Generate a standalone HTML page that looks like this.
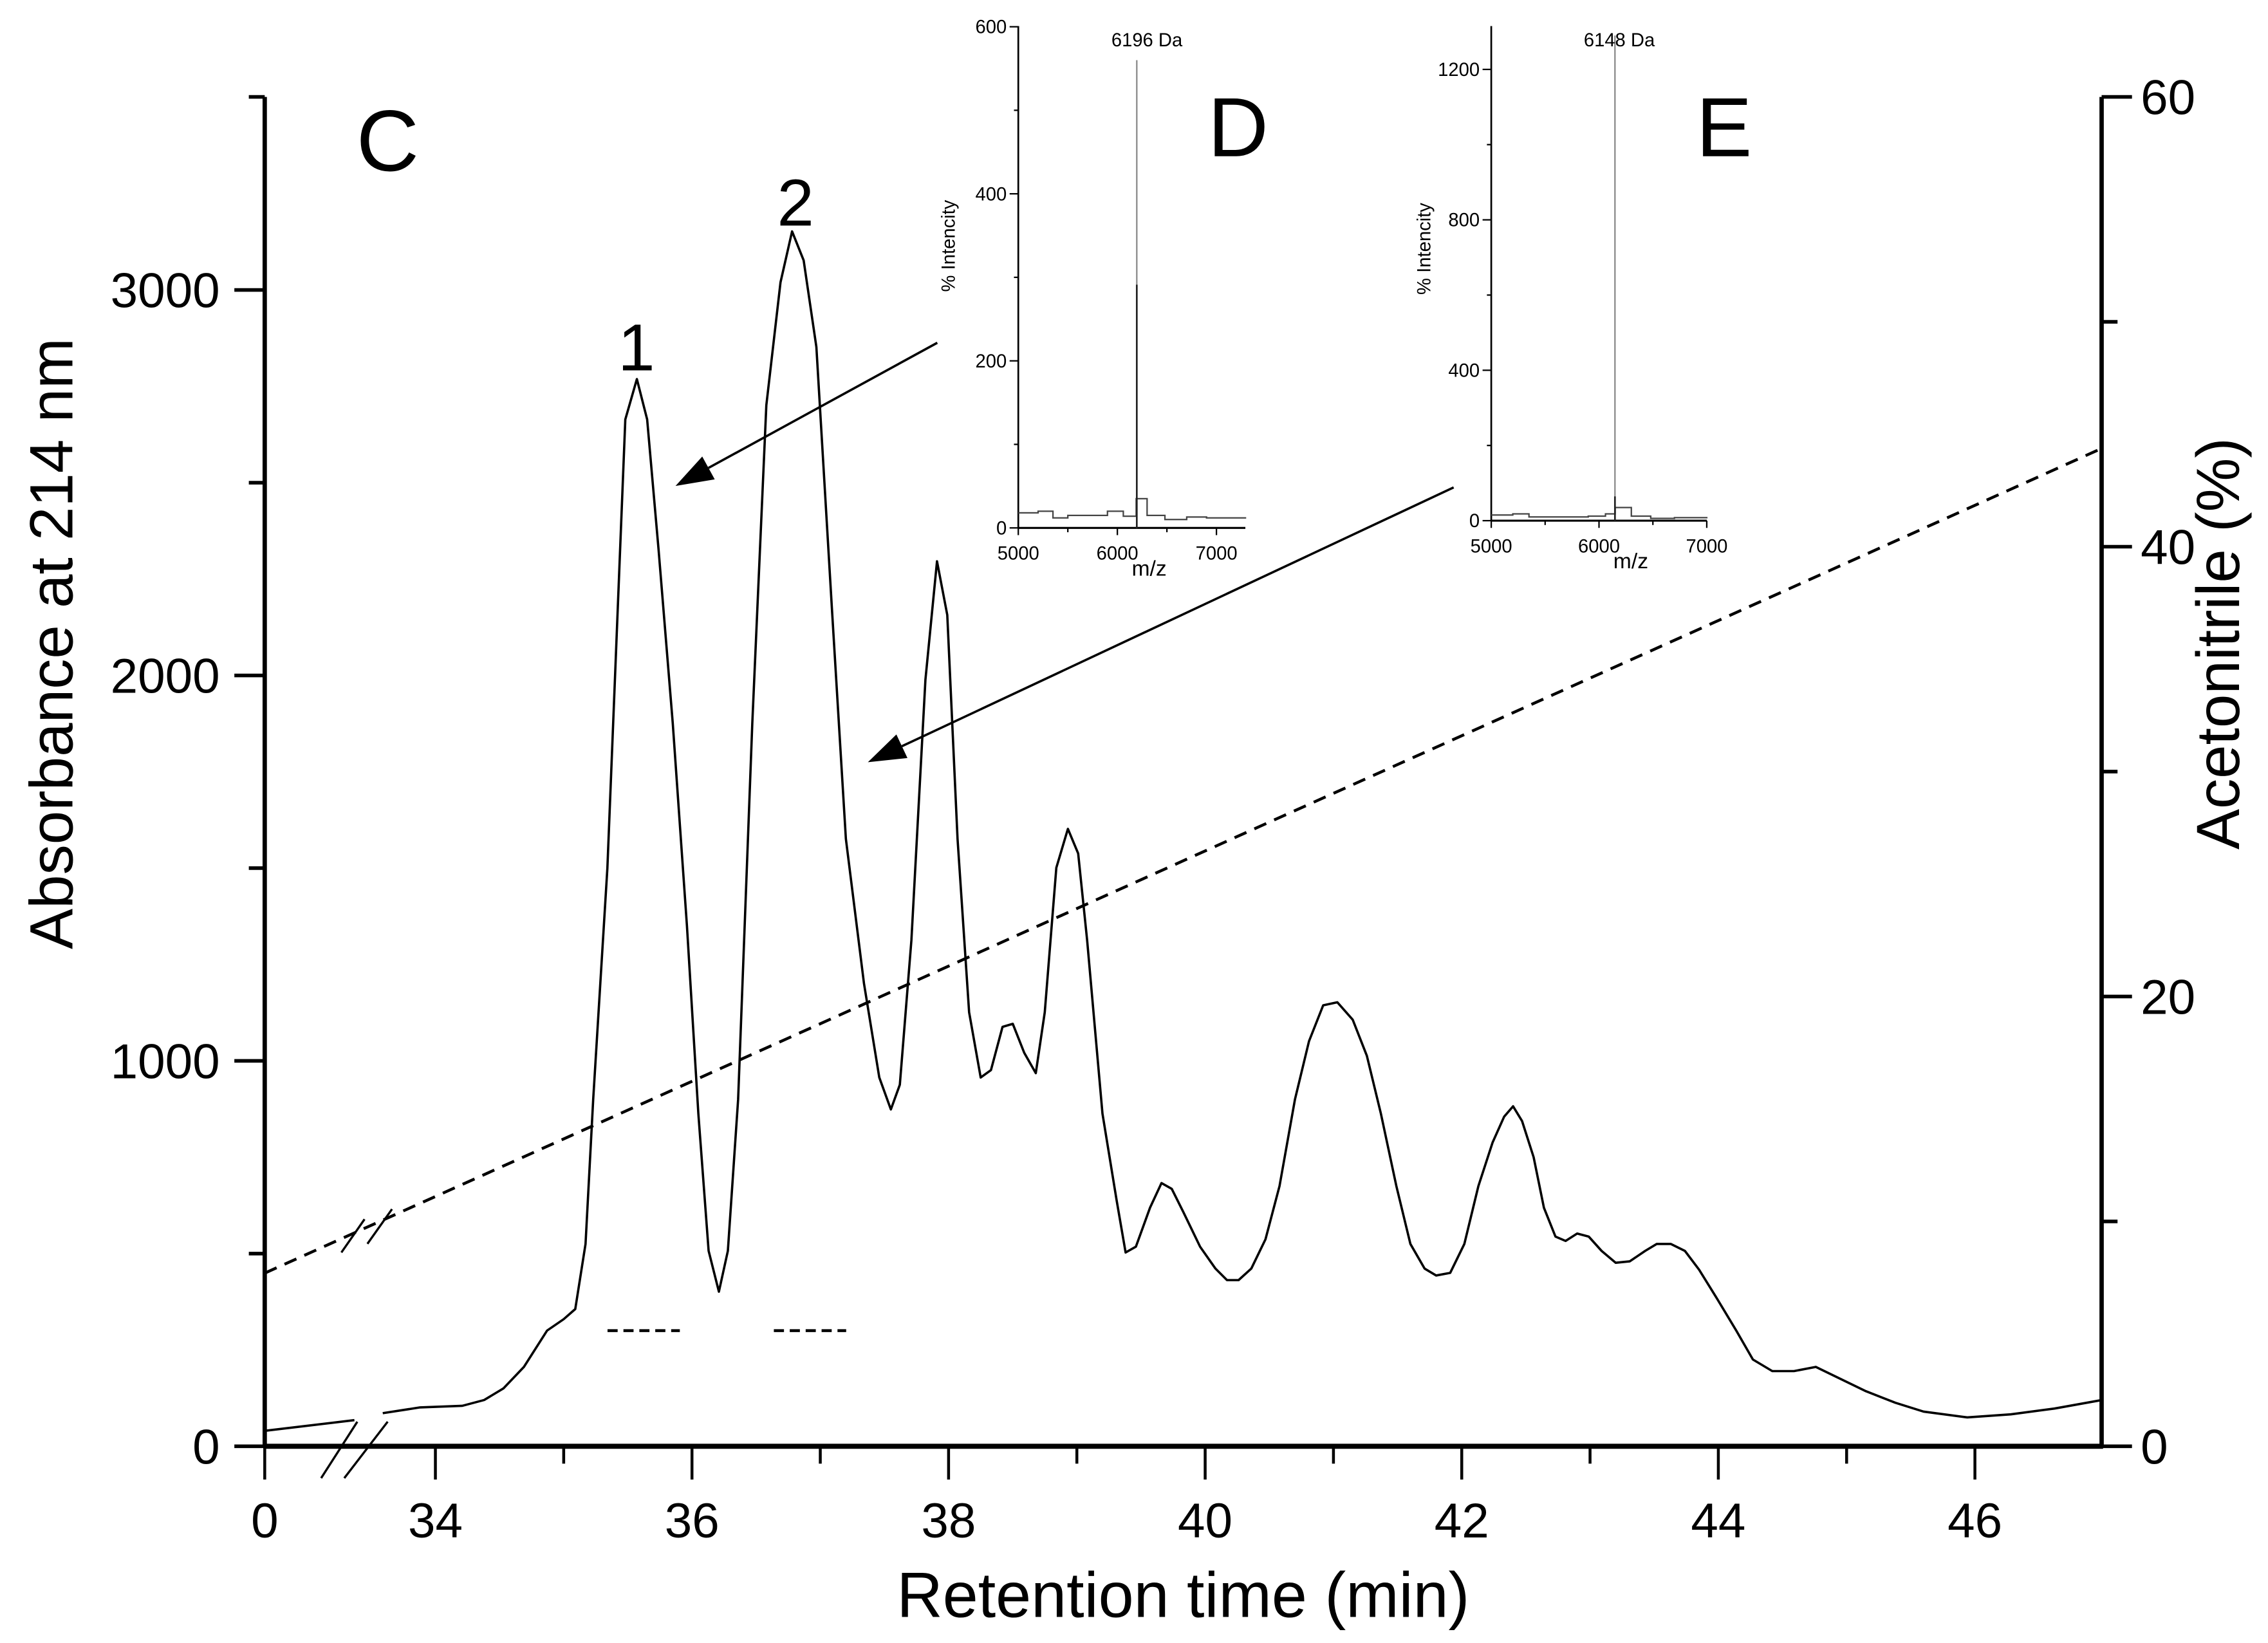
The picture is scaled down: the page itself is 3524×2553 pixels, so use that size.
<!DOCTYPE html>
<html><head><meta charset="utf-8"><style>
html,body{margin:0;padding:0;background:#fff;}
svg{display:block;font-family:"Liberation Sans",Arial,sans-serif;}
</style></head><body>
<svg id="chart" width="3524" height="2553" viewBox="0 0 1568 1136" xmlns="http://www.w3.org/2000/svg">
<g id="g"></g>
</svg>
<script>
// ---- main chromatogram data ----
const retentionTimes = [33.59,33.88,34.21,34.38,34.53,34.69,34.87,35.00,35.09,35.17,35.23,35.34,35.48,35.57,35.65,35.74,35.85,35.96,36.05,36.13,36.21,36.28,36.36,36.47,36.58,36.69,36.78,36.87,36.97,37.09,37.20,37.34,37.46,37.55,37.62,37.71,37.82,37.91,37.99,38.07,38.16,38.25,38.33,38.42,38.50,38.59,38.68,38.75,38.84,38.93,39.01,39.08,39.20,39.31,39.38,39.46,39.57,39.66,39.74,39.83,39.96,40.08,40.17,40.26,40.36,40.47,40.58,40.70,40.81,40.92,41.03,41.15,41.26,41.37,41.49,41.60,41.71,41.80,41.91,42.02,42.13,42.24,42.33,42.40,42.47,42.56,42.64,42.73,42.81,42.90,42.99,43.09,43.20,43.31,43.43,43.52,43.63,43.74,43.85,43.99,44.14,44.27,44.42,44.59,44.76,44.92,45.15,45.38,45.60,45.94,46.28,46.62,46.99];
const absorbance = [86,101,105,120,150,206,300,330,356,525,900,1500,2664,2769,2664,2326,1876,1351,863,507,401,507,900,1876,2701,3020,3152,3077,2852,2176,1576,1201,957,874,938,1313,1989,2296,2157,1576,1126,957,976,1088,1096,1021,968,1126,1501,1602,1538,1313,863,638,503,518,619,683,668,608,518,461,431,431,461,537,675,900,1051,1144,1152,1107,1013,863,675,525,461,443,450,525,675,788,855,882,844,750,619,544,533,552,544,507,476,480,507,525,525,507,458,383,300,225,195,195,206,180,143,113,90,75,83,98,120];
const preBreakTimes = [0, 2];
const preBreakAbs = [40, 68];
const acnTimes = [0, 47];
const acnPercent = [7.7, 44.4];
const xTickValues = [0,34,36,38,40,42,44,46];
const xMinorTicks = [35,37,39,41,43,45];
const yLeftTicks = [0,1000,2000,3000];
const yLeftMinor = [500,1500,2500];
const yRightTicks = [0,20,40,60];
const yRightMinor = [10,30,50];
// ---- inset D ----
const insetDmz = [5000,5200,5350,5500,5900,6060,6190,6300,6480,6700,6900,7300];
const insetDint = [18,20,12,15,20,14,35,15,10,13,12,12];
const insetDpeakMz = [6196];
const insetDpeakInt = [560];
const insetDyTicks = [0,200,400,600];
const insetDxTicks = [5000,6000,7000];
// ---- inset E ----
const insetEmz = [5000,5200,5350,5900,6060,6150,6300,6480,6700,7000];
const insetEint = [15,18,10,12,18,35,12,6,8,10];
const insetEpeakMz = [6148];
const insetEpeakInt = [1290];
const insetEyTicks = [0,400,800,1200];
const insetExTicks = [5000,6000,7000];

const NS="http://www.w3.org/2000/svg";
const g=document.getElementById('g');
function mk(tag,attrs,parent){const e=document.createElementNS(NS,tag);for(const k in attrs)e.setAttribute(k,attrs[k]);(parent||g).appendChild(e);return e;}
function txt(s,attrs,parent){const e=mk('text',attrs,parent);e.textContent=s;return e;}

function xS(t){return t<=2?183+t*31:301+(t-34)*88.7;}
function yL(a){return 1000-a*0.2665;}
function yR(p){return 1000-p*15.55;}

let e;
e=mk('line',{x1:183,y1:67,x2:183,y2:1001,stroke:'#000','stroke-width':3});

e=mk('line',{x1:1453,y1:67,x2:1453,y2:1001,stroke:'#000','stroke-width':3});

e=mk('line',{x1:182,y1:1000,x2:1454,y2:1000,stroke:'#000','stroke-width':3.5});

mk('line',{x1:172,y1:67,x2:183,y2:67,stroke:'#000','stroke-width':2.5});

xTickValues.forEach(v=>{const x=xS(v);
 mk('line',{x1:x,y1:1000,x2:x,y2:1023,stroke:'#000','stroke-width':2});
 e=txt(String(v),{x:x,y:1063,'font-size':34,'text-anchor':'middle'});
 });
xMinorTicks.forEach(v=>{const x=xS(v);mk('line',{x1:x,y1:1000,x2:x,y2:1012,stroke:'#000','stroke-width':2});});
yLeftTicks.forEach(v=>{const y=yL(v);
 mk('line',{x1:162,y1:y,x2:183,y2:y,stroke:'#000','stroke-width':2.5});
 e=txt(String(v),{x:152,y:y+12,'font-size':34,'text-anchor':'end'});
 });
yLeftMinor.forEach(v=>{const y=yL(v);mk('line',{x1:172,y1:y,x2:183,y2:y,stroke:'#000','stroke-width':2.5});});
yRightTicks.forEach(v=>{const y=yR(v);
 mk('line',{x1:1453,y1:y,x2:1474,y2:y,stroke:'#000','stroke-width':2.5});
 e=txt(String(v),{x:1480,y:y+12,'font-size':34,'text-anchor':'start'});
 });
yRightMinor.forEach(v=>{const y=yR(v);mk('line',{x1:1453,y1:y,x2:1464,y2:y,stroke:'#000','stroke-width':2.5});});

e=txt('Retention time (min)',{x:818,y:1118,'font-size':44,'text-anchor':'middle'});

e=txt('Absorbance at 214 nm',{x:0,y:0,'font-size':42,'text-anchor':'middle',transform:'translate(50,445) rotate(-90)'});

e=txt('Acetonitrile (%)',{x:0,y:0,'font-size':42,'text-anchor':'middle',transform:'translate(1548,445) rotate(-90)'});


mk('line',{x1:222,y1:1022,x2:247,y2:983,stroke:'#000','stroke-width':1.5});
mk('line',{x1:238,y1:1022,x2:268,y2:983,stroke:'#000','stroke-width':1.5});

let d='M'+retentionTimes.map((t,i)=>xS(t).toFixed(1)+','+yL(absorbance[i]).toFixed(1)).join(' L');
e=mk('path',{d:d,fill:'none',stroke:'#000','stroke-width':1.6,'stroke-linejoin':'round'});

d='M'+preBreakTimes.map((t,i)=>xS(t).toFixed(1)+','+yL(preBreakAbs[i]).toFixed(1)).join(' L');
e=mk('path',{d:d,fill:'none',stroke:'#000','stroke-width':1.6});


e=mk('line',{x1:xS(acnTimes[0]),y1:yR(acnPercent[0]),x2:xS(acnTimes[1]),y2:yR(acnPercent[1]),stroke:'#000','stroke-width':2,'stroke-dasharray':'9,6'});

mk('line',{x1:236,y1:866,x2:252,y2:843,stroke:'#000','stroke-width':1.5});
mk('line',{x1:254,y1:860,x2:271,y2:836,stroke:'#000','stroke-width':1.5});

e=mk('line',{x1:420,y1:920,x2:470,y2:920,stroke:'#000','stroke-width':2,'stroke-dasharray':'7,4'});

e=mk('line',{x1:535,y1:920,x2:585,y2:920,stroke:'#000','stroke-width':2,'stroke-dasharray':'7,4'});


e=txt('C',{x:268,y:118,'font-size':60,'text-anchor':'middle'});
e=txt('D',{x:856,y:108,'font-size':58,'text-anchor':'middle'});
e=txt('E',{x:1192,y:108,'font-size':58,'text-anchor':'middle'});
e=txt('1',{x:440,y:256,'font-size':46,'text-anchor':'middle'});
e=txt('2',{x:550,y:156,'font-size':46,'text-anchor':'middle'});

function arrow(x1,y1,x2,y2,name){
 const a=Math.atan2(y2-y1,x2-x1),L=26,W=9;
 const bx=x2-L*Math.cos(a),by=y2-L*Math.sin(a);
 const grp=mk('g',{});
 
 
 mk('line',{x1:x1,y1:y1,x2:bx,y2:by,stroke:'#000','stroke-width':1.6},grp);
 mk('polygon',{points:`${x2},${y2} ${bx+W*Math.sin(a)},${by-W*Math.cos(a)} ${bx-W*Math.sin(a)},${by+W*Math.cos(a)}`,fill:'#000'},grp);
}
arrow(648,237,467,336,'arrow-to-peak-1');
arrow(1005,337,600,527,'arrow-to-peak-2');

function inset(o){
 const grp=mk('g',{});
 
 
 const xs=m=>o.x0+(m-5000)*o.xk, ys=v=>o.y0-v*o.yk;
 mk('line',{x1:o.x0,y1:o.top,x2:o.x0,y2:o.y0,stroke:'#000','stroke-width':1.2},grp);
 mk('line',{x1:o.x0,y1:o.y0,x2:o.xend,y2:o.y0,stroke:'#000','stroke-width':1.4},grp);
 o.yt.forEach(v=>{mk('line',{x1:o.x0-6,y1:ys(v),x2:o.x0,y2:ys(v),stroke:'#000','stroke-width':1},grp);
  txt(String(v),{x:o.x0-8,y:ys(v)+4.5,'font-size':13,'text-anchor':'end'},grp);
  const m=v+o.yt[1]/2; if(m<o.yt[o.yt.length-1]) mk('line',{x1:o.x0-3,y1:ys(m),x2:o.x0,y2:ys(m),stroke:'#000','stroke-width':1},grp);});
 o.xt.forEach(v=>{mk('line',{x1:xs(v),y1:o.y0,x2:xs(v),y2:o.y0+5,stroke:'#000','stroke-width':1},grp);
  txt(String(v),{x:xs(v),y:o.y0+22,'font-size':13,'text-anchor':'middle'},grp);
  if(v+500<=7000) mk('line',{x1:xs(v+500),y1:o.y0,x2:xs(v+500),y2:o.y0+3,stroke:'#000','stroke-width':1},grp);});
 let p='M'+xs(o.mz[0])+','+ys(o.int[0]);
 for(let i=1;i<o.mz.length;i++){p+=' L'+xs(o.mz[i])+','+ys(o.int[i-1])+' L'+xs(o.mz[i])+','+ys(o.int[i]);}
 mk('path',{d:p,fill:'none',stroke:'#444','stroke-width':1},grp);
 mk('line',{x1:xs(o.pm[0]),y1:o.y0,x2:xs(o.pm[0]),y2:ys(o.pi[0]),stroke:'#888','stroke-width':1},grp);
 mk('line',{x1:xs(o.pm[0]),y1:o.y0,x2:xs(o.pm[0]),y2:ys(o.pi[0]*o.dark),stroke:'#222','stroke-width':1.2},grp);
 const lt=txt(o.label,{x:xs(o.pm[0])+o.lx,y:o.ly,'font-size':13,'text-anchor':'middle'},grp);
 lt.setAttribute('xml:space','preserve');
 txt('% Intencity',{x:0,y:0,'font-size':13,'text-anchor':'middle',transform:`translate(${o.ix},${o.iy}) rotate(-90)`},grp);
 txt('m/z',{x:xs(6000)+22,y:o.y0+33,'font-size':15,'text-anchor':'middle'},grp);
}
inset({name:'inset-d-mass-spectrum',x0:704,y0:365,top:18,xend:861,xk:0.0685,yk:0.5775,yt:insetDyTicks,xt:insetDxTicks,mz:insetDmz,int:insetDint,pm:insetDpeakMz,pi:insetDpeakInt,dark:0.52,label:'6196 Da',lx:7,ly:32,ix:660,iy:170});
inset({name:'inset-e-mass-spectrum',x0:1031,y0:360,top:18,xend:1180,xk:0.0745,yk:0.26,yt:insetEyTicks,xt:insetExTicks,mz:insetEmz,int:insetEint,pm:insetEpeakMz,pi:insetEpeakInt,dark:0.05,label:'6148    Da',lx:3,ly:32,ix:989,iy:172});
</script>
</body></html>
